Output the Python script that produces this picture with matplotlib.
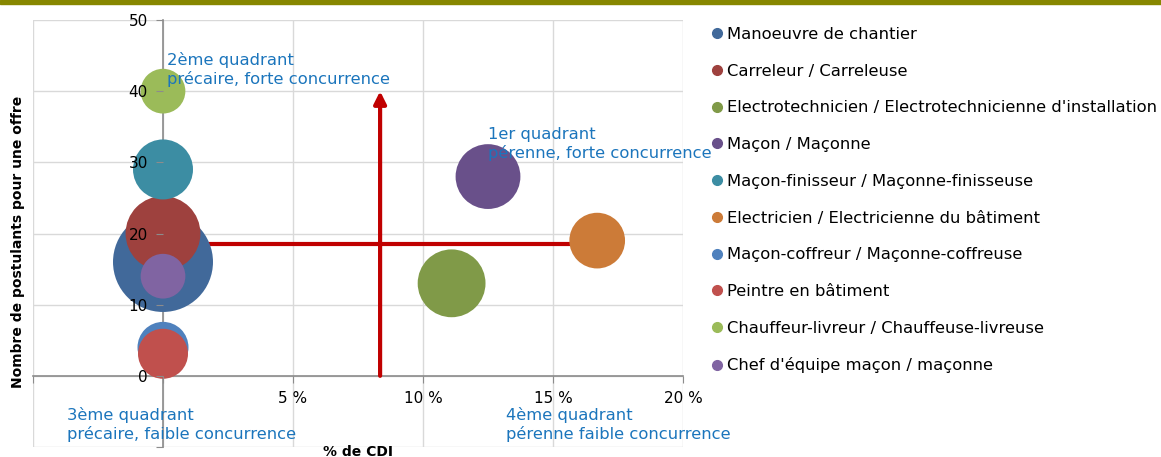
import matplotlib
matplotlib.use("Agg")
import matplotlib.pyplot as plt
from matplotlib.lines import Line2D
from matplotlib.patches import Rectangle
import numpy as np

# Data
metiers = [
    "Manoeuvre de chantier",
    "Carreleur / Carreleuse",
    "Electrotechnicien / Electrotechnicienne d'installation",
    "Maçon / Maçonne",
    "Maçon-finisseur / Maçonne-finisseuse",
    "Electricien / Electricienne du bâtiment",
    "Maçon-coffreur / Maçonne-coffreuse",
    "Peintre en bâtiment",
    "Chauffeur-livreur / Chauffeuse-livreuse",
    "Chef d'équipe maçon / maçonne",
]
pct_cdi = [0.0, 0.0, 11.1, 12.5, 0.0, 16.7, 0.0, 0.0, 0.0, 0.0]
postulants = [16, 20, 13, 28, 29, 19, 4, 3.1, 40, 14]
taille = [100, 56, 46, 42, 36, 31, 26, 25, 20, 20]
couleurs = ["#41699A", "#9E413E", "#809A48", "#69508A", "#3C8DA3",
            "#CC7B38", "#4F81BD", "#C0504D", "#9BBB59", "#8064A2"]

x_ticks = [5, 10, 15, 20]
x_ticklabels = ["5 %", "10 %", "15 %", "20 %"]
y_ticks = [0, 10, 20, 30, 40, 50]

seuil_cdi = 8.35
seuil_postulants = 18.5

quadrants = [
    (0.15, 45.5, "2ème quadrant\nprécaire, forte concurrence"),
    (12.5, 35.0, "1er quadrant\npérenne, forte concurrence"),
    (-3.7, -4.4, "3ème quadrant\nprécaire, faible concurrence"),
    (13.2, -4.4, "4ème quadrant\npérenne faible concurrence"),
]

W, H = 1161, 457
fig = plt.figure(figsize=(W / 100, H / 100), dpi=100)
fig.patch.set_facecolor("white")
ax = fig.add_axes([33 / W, 1 - 447 / H, 650 / W, 427 / H])

ax.set_xlim(-5, 20)
ax.set_ylim(-10, 50)

# grid
for gx in [-5, 0, 5, 10, 15, 20]:
    ax.axvline(gx, color="#D9D9D9", lw=1, zorder=0)
for gy in [-10, 0, 10, 20, 30, 40, 50]:
    ax.axhline(gy, color="#D9D9D9", lw=1, zorder=0)

# spines crossing at origin
for s in ["top", "right"]:
    ax.spines[s].set_visible(False)
for s in ["left", "bottom"]:
    ax.spines[s].set_position(("data", 0))
    ax.spines[s].set_color("#8C8C8C")
    ax.spines[s].set_linewidth(1.2)
    ax.spines[s].set_zorder(1)

ax.set_xticks([-5, 0] + x_ticks)
ax.set_xticklabels(["", ""] + x_ticklabels)
ax.set_yticks([-10] + y_ticks)
ax.set_yticklabels([""] + [str(v) for v in y_ticks])
ax.tick_params(axis="both", colors="#8C8C8C", labelcolor="black", labelsize=11,
               length=5, direction="out")
ax.tick_params(axis="x", pad=6)
ax.tick_params(axis="y", pad=6)
ax.yaxis.set_zorder(10)
ax.xaxis.set_zorder(10)

# red guide lines
ax.plot([0, pct_cdi[5]], [seuil_postulants, seuil_postulants], color="#C00000",
        lw=3, zorder=2, solid_capstyle="butt")
ax.annotate("", xy=(seuil_cdi, 40), xytext=(seuil_cdi, 0),
            arrowprops=dict(arrowstyle="-|>", color="#C00000", lw=3,
                            mutation_scale=18, shrinkA=0, shrinkB=0), zorder=2)

# bubbles, larger ones behind
k = 51.84
order = np.argsort(taille)[::-1]
for rank, i in enumerate(order):
    ax.scatter(pct_cdi[i], postulants[i], s=taille[i] * k, color=couleurs[i],
               edgecolors="none", zorder=3 + rank * 0.01, clip_on=False)

for qx, qy, txt in quadrants:
    ax.text(qx, qy, txt, color="#1B75BC", fontsize=11.75, va="top", ha="left",
            linespacing=1.25, zorder=12)

fig.text(18 / W, 1 - 242 / H, "Nombre de postulants pour une offre", rotation=90,
         fontsize=10, fontweight="bold", ha="center", va="center")
fig.text(358 / W, 1 - 445 / H, "% de CDI", fontsize=10, fontweight="bold",
         ha="center", va="top")

# legend
handles = [Line2D([0], [0], marker="o", ls="none", color=c, markersize=7)
           for c in couleurs]
fig.legend(handles, metiers, loc="upper left", bbox_to_anchor=(711 / W, 1 - 27 / H),
           frameon=False, fontsize=11.75, handlelength=0.7, handletextpad=0.25,
           labelspacing=1.33, borderaxespad=0, borderpad=0)

# olive top band
fig.patches.append(Rectangle((0, 1 - 4 / H), 1, 4 / H, transform=fig.transFigure,
                             color="#878700", zorder=10))

fig.savefig("out.png", dpi=100, facecolor="white")
